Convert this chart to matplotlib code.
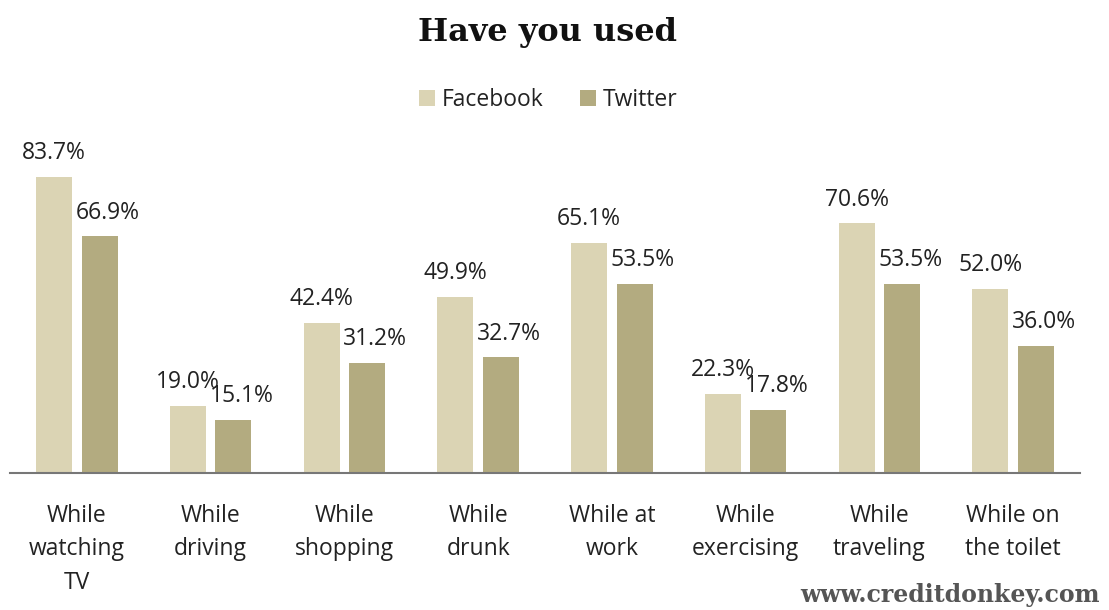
import matplotlib
matplotlib.use("Agg")
import matplotlib.pyplot as plt
import numpy as np

# Chart data
categories = ["While\nwatching\nTV", "While\ndriving", "While\nshopping", "While\ndrunk",
              "While at\nwork", "While\nexercising", "While\ntraveling", "While on\nthe toilet"]
facebook = [83.7, 19.0, 42.4, 49.9, 65.1, 22.3, 70.6, 52.0]
twitter = [66.9, 15.1, 31.2, 32.7, 53.5, 17.8, 53.5, 36.0]

fb_color = "#dbd4b4"
tw_color = "#b3ab80"

plt.rcParams['font.family'] = ['Open Sans', 'DejaVu Sans']

fig = plt.figure(figsize=(11.09, 6.10), dpi=100)
ax = fig.add_axes([10 / 1109, 137 / 610, 1070 / 1109, 353.7 / 610])

x = np.arange(len(categories))
w = 0.27
off = 0.17
ax.bar(x - off, facebook, w, color=fb_color, label="Facebook")
ax.bar(x + off, twitter, w, color=tw_color, label="Twitter")

for i in range(len(categories)):
    ax.text(x[i] - off, facebook[i] + 3.3, f"{facebook[i]:.1f}%", ha="center", va="bottom",
            fontsize=16.5, color="#222222")
    ax.text(x[i] + off + 0.06, twitter[i] + 3.3, f"{twitter[i]:.1f}%", ha="center", va="bottom",
            fontsize=16.5, color="#222222")

ax.set_xlim(-0.5, len(categories) - 0.5)
ax.set_ylim(0, 100)
ax.set_xticks(x)
ax.set_xticklabels(categories, fontsize=16.5, color="#222222", linespacing=1.55)
ax.tick_params(axis="x", length=0, pad=22)
ax.set_yticks([])
for s in ["top", "right", "left"]:
    ax.spines[s].set_visible(False)
ax.spines["bottom"].set_color("#777777")
ax.spines["bottom"].set_linewidth(1.5)

leg = fig.legend(loc="center", bbox_to_anchor=(548 / 1109, 1 - 100 / 610), ncol=2,
                 frameon=False, fontsize=16.5, handlelength=0.7, handleheight=0.7,
                 handletextpad=0.3, columnspacing=1.6)
for t in leg.get_texts():
    t.set_color("#222222")

fig.text(547 / 1109, 1 - 33 / 610, "Have you used", ha="center", va="center",
         fontsize=23, fontweight="bold", family="DejaVu Serif", color="#111111")
fig.text(1100 / 1109, 1 - 595 / 610, "www.creditdonkey.com", ha="right", va="center",
         fontsize=17, fontweight="bold", family="DejaVu Serif", color="#555555")

fig.savefig("out.png", dpi=100)
